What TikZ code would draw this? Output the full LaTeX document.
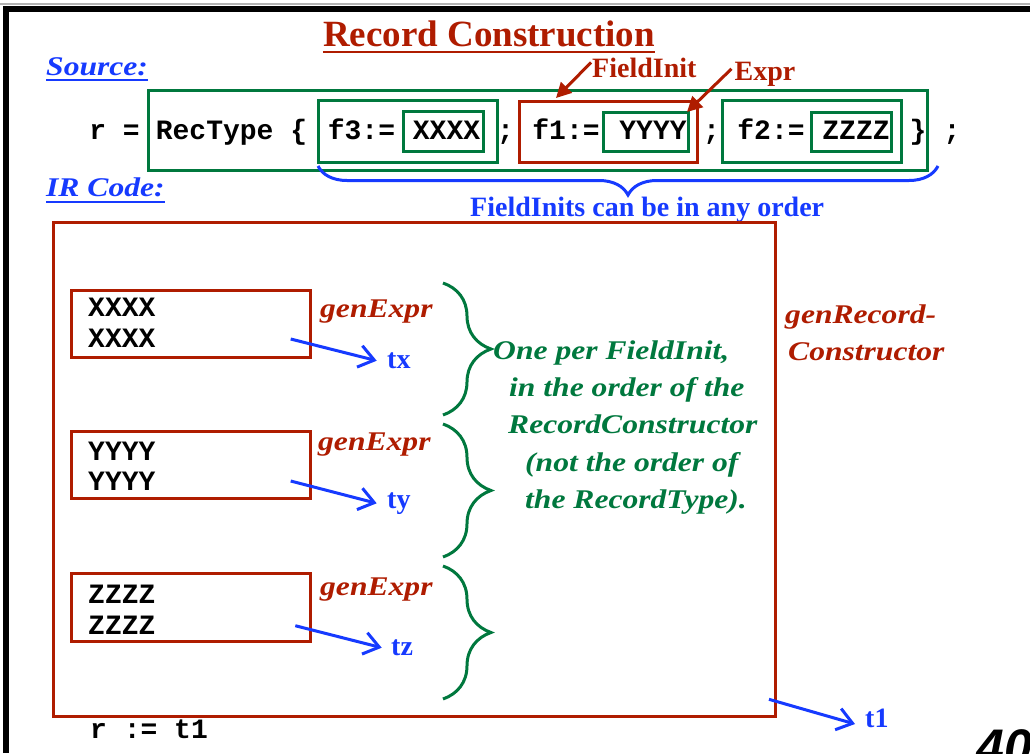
\documentclass[tikz,border=0pt]{standalone}
\usepackage{fontspec}
\setmainfont{Liberation Serif}
\setmonofont{Liberation Mono}
\setsansfont{Liberation Sans}
\newfontfamily\wideserif{Liberation Serif}[FakeStretch=1.17]
\usetikzlibrary{arrows.meta,decorations.pathreplacing,calc}

\definecolor{hred}{RGB}{175,28,0}
\definecolor{hgreen}{RGB}{0,120,62}
\definecolor{hblue}{RGB}{22,58,255}

\begin{document}
\begin{tikzpicture}[x=1pt,y=-1pt,
  code/.style={font=\fontsize{28}{32}\selectfont\ttfamily\bfseries, inner sep=0, anchor=base},
  codel/.style={code, anchor=base west},
  lbl/.style={font=\fontsize{28}{30}\selectfont\bfseries, inner sep=0, anchor=base west},
  ital/.style={font=\fontsize{27}{30}\selectfont\wideserif\bfseries\itshape, inner sep=0, anchor=base west},
  box/.style={draw, line width=3, inner sep=0, fill=none},
  gbox/.style={box, draw=hgreen},
  rbox/.style={box, draw=hred},
  tarr/.style={draw=hblue, line width=3, -{Straight Barb[length=15pt,width=22pt]}},
  rarr/.style={draw=hred, line width=3, -{Triangle[length=15pt,width=15pt]}},
  gbrace/.style={draw=hgreen, line width=3, decorate, decoration={brace, amplitude=48}},
]
\useasboundingbox (0,0) rectangle (1030,753);
\fill[white] (0,0) rectangle (1030,753);

% slide frame
\draw[gray!60, line width=1.2] (0,4) -- (1030,4);
\draw[black, line width=6, line join=miter] (6,753) -- (6,8.5) -- (1040,8.5);

% title
\node[lbl, anchor=base, text=hred, font=\fontsize{37}{40}\selectfont\bfseries] (title) at (489,46.7) {Record Construction};
\draw[hred, line width=2] ($(title.base west)+(0,5)$) -- ($(title.base east)+(0,5)$);

% section headings
\node[ital, text=hblue, font=\fontsize{27}{30}\selectfont\wideserif\bfseries\itshape] (src) at (46,75) {Source:};
\draw[hblue, line width=2] ($(src.base west)+(0,5)$) -- ($(src.base east)+(0,5)$);
\node[ital, text=hblue] (ir) at (46,196.7) {IR Code:};
\draw[hblue, line width=2] ($(ir.base west)+(0,5)$) -- ($(ir.base east)+(0,5)$);

% source line: boxes
\node[gbox, minimum width=779, minimum height=80] (rec) at (538.4,130) {};
\node[gbox, minimum width=179, minimum height=62] (fi3) at (407.5,131) {};
\node[gbox, minimum width=80, minimum height=40] (ex3) at (443,131) {};
\node[rbox, minimum width=178, minimum height=61] (fi1) at (608.6,131.5) {};
\node[gbox, minimum width=85, minimum height=39] (ex1) at (645.5,131.5) {};
\node[gbox, minimum width=179, minimum height=62] (fi2) at (812.3,131) {};
\node[gbox, minimum width=80, minimum height=39] (ex2) at (851,131.5) {};

% source line: text
\node[code] (t0) at (114.5,139.3) {r =};
\node[code] (t1a) at (231.5,139.3) {RecType \{};
\node[code] (t2) at (361.5,139.3) {f3:=};
\node[code] (t3) at (446.5,139.3) {XXXX};
\node[code] (t4) at (505.5,139.3) {;};
\node[code] (t5) at (566,139.3) {f1:=};
\node[code] (t6) at (653,139.3) {YYYY};
\node[code] (t7) at (711.5,139.3) {;};
\node[code] (t8) at (771,139.3) {f2:=};
\node[code] (t9) at (856,139.3) {ZZZZ};
\node[code] (t10) at (918,139.3) {\}};
\node[code] (t11) at (952,139.3) {;};

% FieldInit / Expr callouts
\node[lbl, text=hred] (fil) at (592,77) {FieldInit};
\node[lbl, text=hred] (exl) at (734.5,80) {Expr};
\coordinate (fitip) at (556,98);
\coordinate (extip) at (687,112);
\draw[rarr] ($(fil.west)+(-1,-5)$) -- (fitip);
\draw[rarr] ($(exl.west)+(-3,-5)$) -- (extip);

% brace under the field inits
\draw[hblue, line width=3, decorate, decoration={brace, mirror, amplitude=29}] (318,166) -- (938,166);
\node[lbl, text=hblue] (anyo) at (470,216.7) {FieldInits can be in any order};

% IR code area
\node[rbox, minimum width=722, minimum height=494] (gen) at (414,469) {};
\node[rbox, minimum width=239, minimum height=67] (bx) at (191.2,324.2) {};
\node[rbox, minimum width=239, minimum height=67] (by) at (191.2,464.5) {};
\node[rbox, minimum width=239, minimum height=67.7] (bz) at (191.2,607.8) {};

\node[codel] (x1) at (88,316) {XXXX};
\node[codel] (x2) at (88,347.3) {XXXX};
\node[codel] (y1) at (88,460.7) {YYYY};
\node[codel] (y2) at (88,490.7) {YYYY};
\node[codel] (z1) at (88,603.3) {ZZZZ};
\node[codel] (z2) at (88,634) {ZZZZ};

\node[ital, text=hred] (gx) at (320,317) {genExpr};
\node[ital, text=hred] (gy) at (318,450) {genExpr};
\node[ital, text=hred] (gz) at (320,595) {genExpr};

\node[lbl, text=hblue] (tx) at (387,368) {tx};
\node[lbl, text=hblue] (ty) at (387,508) {ty};
\node[lbl, text=hblue] (tz) at (391,655) {tz};
\node[lbl, text=hblue] (tone) at (865,727) {t1};

\coordinate (sx) at (290.7,339);
\coordinate (sy) at (290.7,481);
\coordinate (sz) at (295.3,625.7);
\coordinate (sone) at (769,699.3);
\coordinate (ex) at (376.7,360.7);
\coordinate (ey) at (376.7,503.3);
\coordinate (ez) at (381.7,647.7);
\coordinate (eone) at (855,724);
\draw[tarr] (sx) -- (ex);
\draw[tarr] (sy) -- (ey);
\draw[tarr] (sz) -- (ez);
\draw[tarr] (sone) -- (eone);

% braces grouping the generated code
\draw[gbrace] (443,283) -- (443,415);
\draw[gbrace] (443,424) -- (443,557);
\draw[gbrace] (443,566) -- (443,699);

\node[ital, text=hgreen] (n1) at (493,359) {One per FieldInit,};
\node[ital, text=hgreen] (n2) at (509,396.7) {in the order of the};
\node[ital, text=hgreen] (n3) at (508,433) {RecordConstructor};
\node[ital, text=hgreen] (n4) at (525,471.7) {(not the order of};
\node[ital, text=hgreen] (n5) at (525,508) {the RecordType).};

\node[ital, text=hred] (gr1) at (785,323) {genRecord-};
\node[ital, text=hred] (gr2) at (788,360) {Constructor};

\node[codel] (assign) at (90,738) {r := t1};

% page number
\node[inner sep=0, anchor=base west, font=\fontsize{50}{50}\selectfont\sffamily\bfseries\itshape] (pg) at (976,764) {40};
\end{tikzpicture}
\end{document}
